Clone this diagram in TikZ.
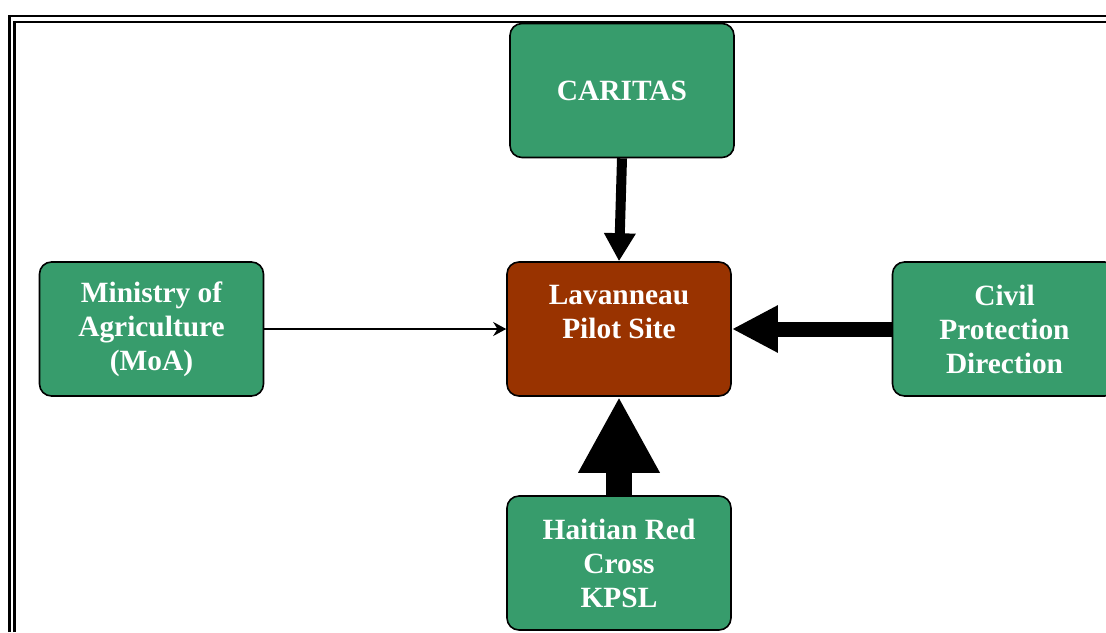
\documentclass[tikz,border=0pt]{standalone}
\usepackage{fontspec}
\setmainfont{Liberation Serif}
\usepackage{xcolor}
\usepackage{tikz}
\usetikzlibrary{arrows.meta}
\definecolor{boxgreen}{RGB}{55,156,108}
\definecolor{sitebrown}{RGB}{153,51,0}
\tikzset{
    orgnode/.style = {align=center, inner sep=0pt, text centered, font=\fontsize{14.7}{17}\selectfont\bfseries, text=white},
    org/.style = {orgnode, rectangle, rounded corners=6pt, draw=black, line width=0.8pt, fill=boxgreen, minimum width=112pt, minimum height=67pt},
    site/.style = {org, fill=sitebrown},
    frame/.style = {line width=1.4pt, black}
}

\begin{document}
\begin{tikzpicture}[x=0.5pt, y=-0.5pt,
                    link/.style={line width=#1, black}]
                    \useasboundingbox (0,0) rectangle (1106,632);
                    % double frame
                    \draw [frame] (9.5,632) -- (9.5,16) -- (1106,16);
                    \draw [frame] (14.5,632) -- (14.5,22) -- (1106,22);
                    % boxes
                    \node [site] (lav) at (619,329) {Lavanneau\\Pilot Site\\\mbox{}};
                    \node [org] (caritas) at (622,90.5) {CARITAS};
                    \node [org] (moa) at (151.5,329) {Ministry of\\Agriculture\\(MoA)};
                    \node [org] (dpc) at (1004.5,329) {Civil\\Protection\\Direction};
                    \node [org] (croix) at (619,563) {Haitian Red\\Cross\\KPSL};
                    % arrows
                    \draw [link=5pt, -{Triangle[length=14pt, width=15pt]}] (caritas.south) -- (lav.north);
                    \draw [link=1pt, -{Stealth[length=6.5pt, width=7pt]}] (moa.east) -- (lav.west);
                    \draw [link=7.5pt, -{Triangle[length=23pt, width=22pt]}] (dpc.west) -- (lav.east);
                    \draw [link=13pt, -{Triangle[length=38pt, width=38pt]}] (croix.north) -- (lav.south);
\end{tikzpicture}
\end{document}
